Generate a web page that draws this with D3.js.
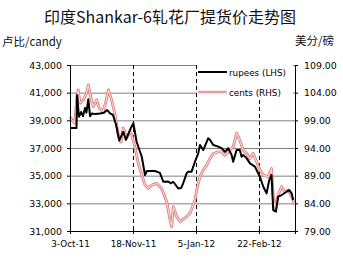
<!DOCTYPE html>
<html><head><meta charset="utf-8">
<script src="https://cdn.jsdelivr.net/npm/d3@7"></script>
<style>
body{margin:0;background:#fff;}
svg{display:block;}
</style></head>
<body>
<script>
// ---- data ----
const title = "印度Shankar-6轧花厂提货价走势图";
const leftUnit = "卢比/candy";
const rightUnit = "美分/磅";
const xTickIndex = [0, 33, 66, 99];
const xTickLabels = ["3-Oct-11", "18-Nov-11", "5-Jan-12", "22-Feb-12"];
const leftTicks = [31000, 33000, 35000, 37000, 39000, 41000, 43000];
const rightTicks = [79, 84, 89, 94, 99, 104, 109];
const seriesNames = ["rupees (LHS)", "cents (RHS)"];

// trading-day index and values, rupees per candy (left axis)
const rupeesDay = [0,3.4,3.7,4.7,5.8,6.8,7.9,8.6,9.6,10.5,11.5,13.1,15.7,17.8,19.4,21,22.5,24.1,25.8,27.9,29.3,31.8,33.2,34.9,37.6,39.3,40.3,44.5,47.1,48.9,51.3,52.9,54.1,56.7,58.2,59.3,61.1,61.9,63.7,65.5,67.2,68.1,69.8,71.2,72.4,73.3,75.1,77.7,79.5,81.2,82.9,84.7,85.5,87.3,89,89.9,90.8,92.6,94.3,96.9,99.5,101.3,103,104.4,105.6,106.5,107.9,109.1,110.9,113.5,114.9,116.1,117];
const rupeesVal = [38450,38450,40830,39260,39600,39300,39900,39550,40520,39300,39500,39450,39500,39550,39750,39500,39390,38700,37530,38180,37580,38420,38790,37450,36370,35050,35340,35340,35200,34560,34580,34450,34560,34080,34100,34450,35170,35290,35290,36010,36610,37220,36850,37300,37700,37600,37220,37100,36980,36730,36980,36490,36010,36850,36850,36370,36490,36250,35890,35650,34920,34200,33720,34680,35040,32510,32400,33480,33600,33840,33960,33720,33240];

// trading-day index and values, US cents per lb (right axis)
const centsDay = [0,1,2.5,3.7,4.3,5.2,7,8.7,9.6,11.4,12.2,14,15.3,17.4,18.9,20.1,21.8,23.6,25.3,26.7,27.9,29.7,31.4,32.3,34,35.8,37.6,39.3,41,42.8,45.4,48,50.7,52.4,53.3,54.1,55.9,57.6,60.2,62.9,65.5,66.4,67.2,68.1,69.8,71.6,73.3,75.1,77.7,79.5,81.2,83.8,85.5,87.3,89,90.8,92.6,94.3,96,97.8,99.5,101.3,103.9,105.6,106.5,107.4,109.1,110.9,112.6,114.4,116.1,117.8];
const centsVal = [99.6,99.1,98.5,103.5,104.5,102.1,102.7,103.9,105.4,102.4,101.5,102.7,101.2,100.6,102.5,104.5,102.7,100,96.4,95.1,97.6,95.8,97,96.4,94.2,91.2,89.1,87.3,86.7,87.3,87.6,86.7,84.3,81,79.8,83.4,81.6,80.7,81.3,82.2,84.6,86.4,87.6,88.8,90,90.9,92.1,93,93.3,93.3,92.7,93.6,94.2,96.7,95.4,93.6,93,92.1,93,91.5,90,89.1,88.8,90.3,85.2,83.1,85.5,87,86.1,86.4,85.2,83.7];

// ---- chart ----
const W = 343, H = 259;
const svg = d3.select("body").append("svg").attr("width", W).attr("height", H);
const pl = 70, pr = 295, pt = 65, pb = 231;

const x = d3.scaleLinear().domain([0, 117.9]).range([pl, pr]);
const yL = d3.scaleLinear().domain([31000, 43000]).range([pb, pt]);
const yR = d3.scaleLinear().domain([79, 109]).range([pb, pt]);

const tickFont = "'DejaVu Sans', Verdana, sans-serif";

// title & units
svg.append("text").attr("x", 170).attr("y", 23).attr("text-anchor", "middle")
  .style("font-family", "'Noto Sans CJK SC', sans-serif").style("font-size", "16px").attr("fill", "#111")
  .text(title);
svg.append("text").attr("x", 2).attr("y", 46)
  .style("font-family", "'Noto Sans CJK SC', sans-serif").style("font-size", "11.5px").attr("fill", "#111")
  .text(leftUnit);
svg.append("text").attr("x", 334).attr("y", 45).attr("text-anchor", "end")
  .style("font-family", "'Noto Sans CJK SC', sans-serif").style("font-size", "11.5px").attr("fill", "#111")
  .text(rightUnit);

// gridlines
svg.append("g").selectAll("line").data(leftTicks).join("line")
  .attr("x1", pl).attr("x2", pr).attr("y1", d => yL(d) + 0.5).attr("y2", d => yL(d) + 0.5)
  .attr("stroke", "#808080").attr("stroke-width", 1);

// dashed verticals
svg.append("g").selectAll("line").data(xTickIndex.slice(1)).join("line")
  .attr("x1", d => Math.round(x(d)) + 0.5).attr("x2", d => Math.round(x(d)) + 0.5)
  .attr("y1", pt).attr("y2", pb)
  .attr("stroke", "#000").attr("stroke-width", 1).attr("stroke-dasharray", "4,3");

// lines
const centsPts = centsDay.map((d, i) => [d, centsVal[i]]);
const rupeesPts = rupeesDay.map((d, i) => [d, rupeesVal[i]]);
const lineR = d3.line().x(d => x(d[0])).y(d => yR(d[1]));
const lineL = d3.line().x(d => x(d[0])).y(d => yL(d[1]));
svg.append("path").attr("d", lineR(centsPts)).attr("fill", "none")
  .attr("stroke", "#e07777").attr("stroke-width", 2.8).attr("stroke-linejoin", "round");
svg.append("path").attr("d", lineR(centsPts)).attr("fill", "none")
  .attr("stroke", "#fadcdc").attr("stroke-width", 1.1).attr("stroke-linejoin", "round");
svg.append("path").attr("d", lineL(rupeesPts)).attr("fill", "none")
  .attr("stroke", "#000").attr("stroke-width", 2).attr("stroke-linejoin", "round");

// legend
svg.append("rect").attr("x", 197).attr("y", 64).attr("width", 96).attr("height", 36).attr("fill", "#fff");
const lg = svg.append("g");
lg.append("line").attr("x1", 198).attr("x2", 227).attr("y1", 72).attr("y2", 72).attr("stroke", "#000").attr("stroke-width", 2);
lg.append("line").attr("x1", 198).attr("x2", 227).attr("y1", 92).attr("y2", 92).attr("stroke", "#e07777").attr("stroke-width", 2.4);
lg.append("line").attr("x1", 198).attr("x2", 227).attr("y1", 92).attr("y2", 92).attr("stroke", "#fadcdc").attr("stroke-width", 0.8);
lg.selectAll("text").data(seriesNames).join("text")
  .attr("x", 229).attr("y", (d, i) => 75.5 + i * 20)
  .style("font-family", tickFont).style("font-size", "8.8px").attr("fill", "#000")
  .text(d => d);

// axes
const fmtL = d3.format(",");
const axL = d3.axisLeft(yL).tickValues(leftTicks).tickFormat(fmtL).tickSize(3).tickPadding(5);
const axR = d3.axisRight(yR).tickValues(rightTicks).tickFormat(d3.format(".2f")).tickSize(3).tickPadding(6);
const axB = d3.axisBottom(x).tickValues(xTickIndex).tickFormat((d, i) => xTickLabels[i]).tickSize(3).tickPadding(7);

function styleAxis(g) {
  g.selectAll("path").attr("stroke", "#000");
  g.selectAll("line").attr("stroke", "#000");
  g.selectAll("text").style("font-family", tickFont).attr("fill", "#000");
}
const gL = svg.append("g").attr("transform", `translate(${pl},0)`).call(axL).call(styleAxis);
gL.selectAll("text").style("font-size", "9.4px");
const gR = svg.append("g").attr("transform", `translate(${pr},0)`).call(axR).call(styleAxis);
gR.selectAll("text").style("font-size", "9.4px");
const gB = svg.append("g").attr("transform", `translate(0,${pb})`).call(axB).call(styleAxis);
gB.selectAll("text").style("font-size", "8.8px");
gB.selectAll(".tick line").attr("y1", -3).attr("y2", 3);
</script>
</body></html>
